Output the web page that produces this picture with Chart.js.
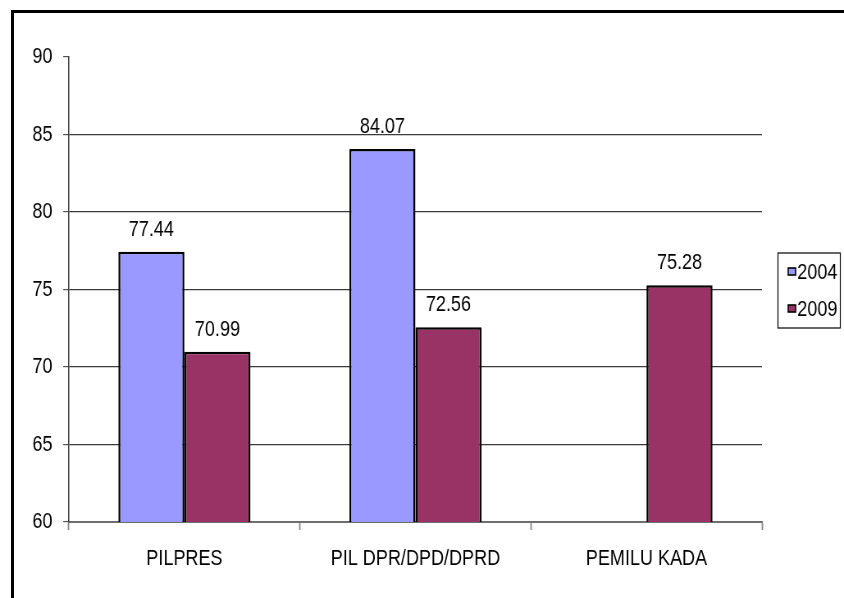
<!DOCTYPE html>
<html>
<head>
<meta charset="utf-8">
<script src="https://cdn.jsdelivr.net/npm/chart.js@4/dist/chart.umd.min.js"></script>
<style>
  html, body { margin: 0; padding: 0; background: #fff; }
  #wrap { position: relative; width: 844px; height: 598px; overflow: hidden; }
  #frame { position: absolute; left: 11px; top: 10px; width: 900px; height: 700px;
           border-left: 3px solid #000; border-top: 3px solid #000; box-sizing: border-box; }
  /* the canvas is laid out wide and squeezed horizontally for a condensed look */
  #squeeze { position: absolute; left: 0; top: 0; width: 1029px; height: 598px;
             transform: scaleX(0.8202); transform-origin: 0 0; }
  canvas { display: block; }
</style>
</head>
<body>
<div id="wrap">
  <div id="frame"></div>
  <div id="squeeze"><canvas id="c" width="1029" height="598"></canvas></div>
</div>
<script>
// Voter turnout (%) by election type
const categories = ['PILPRES', 'PIL DPR/DPD/DPRD', 'PEMILU KADA'];
const seriesNames = ['2004', '2009'];
const turnout2004 = [77.44, 84.07, null];
const turnout2009 = [70.99, 72.56, 75.28];
const yTicks = [60, 65, 70, 75, 80, 85, 90];

const FONT = "'Liberation Sans', Arial, sans-serif";
const FONT_SIZE = 22;
const colors = ['#9999FF', '#993366'];

// Value labels above each bar
const valueLabels = {
  id: 'valueLabels',
  afterDatasetsDraw(chart) {
    const ctx = chart.ctx;
    ctx.save();
    ctx.font = FONT_SIZE + 'px ' + FONT;
    ctx.fillStyle = '#000';
    ctx.textAlign = 'center';
    ctx.textBaseline = 'alphabetic';
    chart.data.datasets.forEach((ds, i) => {
      chart.getDatasetMeta(i).data.forEach((bar, j) => {
        const v = ds.data[j];
        if (v == null) return;
        ctx.fillText(v.toFixed(2), bar.x, bar.y - 16);
      });
    });
    ctx.restore();
  }
};

// Boxed legend to the right of the plot
const boxedLegend = {
  id: 'boxedLegend',
  afterDraw(chart) {
    const ctx = chart.ctx;
    const a = chart.chartArea;
    const x0 = a.right + 19, w = 76;
    const yMid = (a.top + a.bottom) / 2;
    const y0 = yMid - 37, h = 75;
    ctx.save();
    ctx.strokeStyle = '#000';
    ctx.lineWidth = 1.2;
    ctx.strokeRect(x0 + 0.5, y0 + 0.5, w, h);
    ctx.font = FONT_SIZE + 'px ' + FONT;
    ctx.textBaseline = 'middle';
    ctx.textAlign = 'left';
    seriesNames.forEach((name, i) => {
      const cy = y0 + 19 + i * 37;
      ctx.fillStyle = colors[i];
      ctx.fillRect(x0 + 13, cy - 3.5, 9, 7);
      ctx.strokeStyle = '#000';
      ctx.lineWidth = 1.6;
      ctx.strokeRect(x0 + 13, cy - 3.5, 9, 7);
      ctx.fillStyle = '#000';
      ctx.fillText(name, x0 + 24, cy + 1);
    });
    ctx.restore();
  }
};

new Chart(document.getElementById('c'), {
  type: 'bar',
  data: {
    labels: categories,
    datasets: [
      { label: seriesNames[0], data: turnout2004, backgroundColor: colors[0],
        borderColor: '#000', borderWidth: 2.5, borderSkipped: 'bottom' },
      { label: seriesNames[1], data: turnout2009, backgroundColor: colors[1],
        borderColor: '#000', borderWidth: 2.5, borderSkipped: 'bottom' }
    ]
  },
  options: {
    responsive: false,
    animation: false,
    layout: { padding: { top: 57, right: 100, left: 0, bottom: 0 } },
    plugins: { legend: { display: false }, tooltip: { enabled: false } },
    datasets: { bar: { categoryPercentage: 0.572, barPercentage: 1.0 } },
    scales: {
      x: {
        offset: true,
        afterFit(s) { s.height = 76; },
        grid: { offset: true, drawOnChartArea: false, tickLength: 8, tickColor: '#888', tickWidth: 1.8 },
        border: { color: '#6e6e6e', width: 2 },
        ticks: { color: '#000', font: { family: FONT, size: FONT_SIZE }, padding: 16, maxRotation: 0 }
      },
      y: {
        min: 60, max: 90,
        afterFit(s) { s.width = 84; },
        afterBuildTicks(s) { s.ticks = yTicks.map(v => ({ value: v })); },
        grid: {
          color: c => (c.tick && c.tick.value === 90) ? 'rgba(0,0,0,0)' : '#3a3a3a',
          lineWidth: 1.2,
          tickColor: '#555', tickLength: 7
        },
        border: { color: '#444', width: 1.5 },
        ticks: { color: '#000', font: { family: FONT, size: FONT_SIZE }, padding: 13 }
      }
    }
  },
  plugins: [valueLabels, boxedLegend]
});
</script>
</body>
</html>
